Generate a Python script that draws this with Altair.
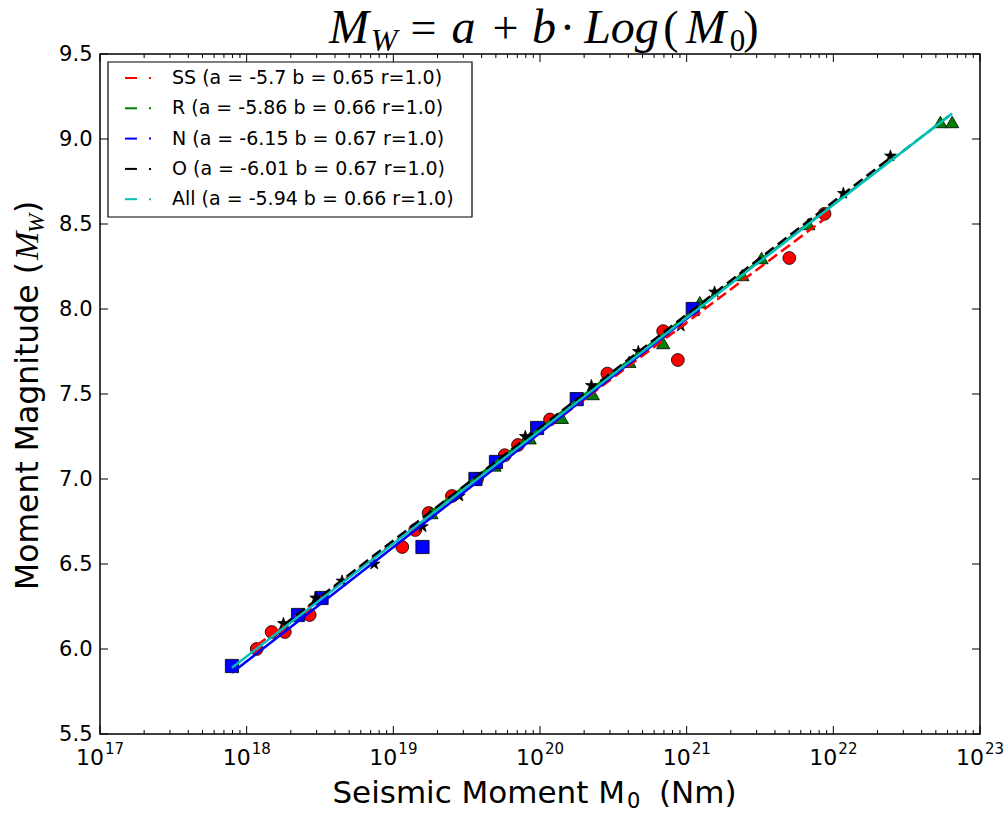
import altair as alt
import pandas as pd

# ---------------- data ----------------
ss_m0 = [1.17e18, 1.48e18, 1.82e18, 2.69e18, 1.15e19, 1.41e19, 1.74e19, 2.51e19, 3.72e19,
         5.75e19, 7.08e19, 1.17e20, 2.88e20, 6.92e20, 8.71e20, 5.01e21, 8.71e21]
ss_mw = [6.0, 6.1, 6.1, 6.2, 6.6, 6.7, 6.8, 6.9, 7.0, 7.14, 7.2, 7.35, 7.62, 7.87, 7.7, 8.3, 8.56]

r_m0 = [1.82e19, 4.90e19, 8.51e19, 1.41e20, 2.29e20, 4.07e20, 6.92e20, 1.23e21, 2.40e21,
        3.24e21, 6.76e21, 5.37e22, 6.46e22]
r_mw = [6.8, 7.08, 7.24, 7.36, 7.5, 7.69, 7.8, 8.04, 8.2, 8.3, 8.5, 9.1, 9.1]

n_m0 = [7.94e17, 2.24e18, 3.24e18, 1.58e19, 3.63e19, 5.01e19, 9.55e19, 1.78e20, 1.10e21]
n_mw = [5.9, 6.2, 6.3, 6.6, 7.0, 7.1, 7.3, 7.47, 8.0]

o_m0 = [1.78e18, 2.95e18, 4.47e18, 7.41e18, 1.58e19, 2.82e19, 7.94e19, 2.24e20, 4.68e20,
        9.12e20, 1.55e21, 1.17e22, 2.45e22]
o_mw = [6.15, 6.3, 6.4, 6.5, 6.72, 6.9, 7.25, 7.55, 7.75, 7.9, 8.1, 8.68, 8.9]

groups = ["SS", "R", "N", "O", "All"]
fit_a = ["-5.7", "-5.86", "-6.15", "-6.01", "-5.94"]
fit_b = ["0.65", "0.66", "0.67", "0.67", "0.66"]
colors = ["#ff0000", "#008000", "#0000ff", "#000000", "#00bfbf"]
labels = [f"{g} (a = {a} b = {b} r=1.0)" for g, a, b in zip(groups, fit_a, fit_b)]

# fitted-line end points
fit_m0_start = [1.17e18, 1.82e19, 7.94e17, 1.78e18, 7.94e17]
fit_mw_start = [6.02, 6.81, 5.86, 6.14, 5.89]
fit_m0_end = [8.71e21, 6.46e22, 1.10e21, 2.45e22, 6.46e22]
fit_mw_end = [8.53, 9.15, 7.97, 8.89, 9.15]
fit_dashed = [True, True, False, True, False]

x_major = [1e17, 1e18, 1e19, 1e20, 1e21, 1e22, 1e23]
x_exp = ["17", "18", "19", "20", "21", "22", "23"]
x_minor = [m * 10 ** e for e in range(17, 23) for m in range(2, 10)]
y_major = [5.5, 6.0, 6.5, 7.0, 7.5, 8.0, 8.5, 9.0, 9.5]

STAR = ("M0,-1L0.225,-0.309L0.951,-0.309L0.363,0.118L0.588,0.809L0,0.382"
        "L-0.588,0.809L-0.363,0.118L-0.951,-0.309L-0.225,-0.309Z")

# ---------------- tables ----------------
pts = pd.concat([
    pd.DataFrame({"m0": ss_m0, "mw": ss_mw, "g": "SS"}),
    pd.DataFrame({"m0": r_m0, "mw": r_mw, "g": "R"}),
    pd.DataFrame({"m0": n_m0, "mw": n_mw, "g": "N"}),
    pd.DataFrame({"m0": o_m0, "mw": o_mw, "g": "O"}),
], ignore_index=True)

rows = []
for i, g in enumerate(groups):
    rows.append({"m0": fit_m0_start[i], "mw": fit_mw_start[i], "lab": labels[i], "g": g, "d": fit_dashed[i]})
    rows.append({"m0": fit_m0_end[i], "mw": fit_mw_end[i], "lab": labels[i], "g": g, "d": fit_dashed[i]})
fit = pd.DataFrame(rows)

W, H = 880, 680
xs = alt.Scale(type="log", domain=[1e17, 1e23], nice=False)
ys = alt.Scale(domain=[5.5, 9.5], nice=False, zero=False)

X = alt.X("m0:Q", scale=xs,
          axis=alt.Axis(values=x_major, labels=False, ticks=False, domain=False, grid=False, title=None))
Y = alt.Y("mw:Q", scale=ys,
          axis=alt.Axis(values=y_major, format=".1f", ticks=False, domain=False, grid=False,
                        labelFontSize=21, labelFont="DejaVu Sans", labelColor="black",
                        labelPadding=8, title=None))

shape_of = {"SS": ("circle", 165), "R": ("triangle-up", 175), "N": ("square", 175), "O": (STAR, 150)}
point_layers = []
for g, col in zip(["SS", "R", "N", "O"], colors):
    shp, sz = shape_of[g]
    point_layers.append(
        alt.Chart(pts[pts.g == g]).mark_point(shape=shp, size=sz, filled=True, fill=col,
                                              stroke="black", strokeWidth=0.8, opacity=1)
        .encode(x=X, y=Y)
    )

color_scale = alt.Scale(domain=labels, range=colors)
dashed = alt.Chart(fit[fit.d]).mark_line(strokeWidth=2.5, strokeDash=[11, 5]).encode(
    x=X, y=Y, color=alt.Color("lab:N", scale=color_scale, legend=None), detail="g:N")
solid = alt.Chart(fit[~fit.d]).mark_line(strokeWidth=2.5).encode(
    x=X, y=Y, color=alt.Color("lab:N", scale=color_scale, legend=None), detail="g:N")

# inward ticks (matplotlib style), on all four sides
tx_major = pd.DataFrame({"m0": x_major})
tx_minor = pd.DataFrame({"m0": x_minor})
ty_major = pd.DataFrame({"mw": y_major})
ticks = [
    alt.Chart(tx_major).mark_rule(color="black", strokeWidth=1).encode(x=X, y=alt.value(H), y2=alt.value(H - 8)),
    alt.Chart(tx_major).mark_rule(color="black", strokeWidth=1).encode(x=X, y=alt.value(0), y2=alt.value(8)),
    alt.Chart(tx_minor).mark_rule(color="black", strokeWidth=1).encode(x=X, y=alt.value(H), y2=alt.value(H - 4)),
    alt.Chart(tx_minor).mark_rule(color="black", strokeWidth=1).encode(x=X, y=alt.value(0), y2=alt.value(4)),
    alt.Chart(ty_major).mark_rule(color="black", strokeWidth=1).encode(y=Y, x=alt.value(0), x2=alt.value(8)),
    alt.Chart(ty_major).mark_rule(color="black", strokeWidth=1).encode(y=Y, x=alt.value(W), x2=alt.value(W - 8)),
]

# x tick labels: 10 with superscript exponent
xlab = pd.DataFrame({"m0": x_major, "base": ["10"] * len(x_major), "exp": x_exp})
xlabels = [
    alt.Chart(xlab).mark_text(align="right", baseline="alphabetic", dx=4, fontSize=22,
                              font="DejaVu Sans", color="black").encode(x=X, y=alt.value(H + 31), text="base:N"),
    alt.Chart(xlab).mark_text(align="left", baseline="alphabetic", dx=5, fontSize=15,
                              font="DejaVu Sans", color="black").encode(x=X, y=alt.value(H + 20), text="exp:N"),
]

one = pd.DataFrame({"k": [0]})

def txt(t, x, y, size, font="DejaVu Sans", italic=False, align="left", angle=0, baseline="alphabetic", color="black"):
    kw = dict(text=t, align=align, baseline=baseline, fontSize=size, font=font,
              fontStyle="italic" if italic else "normal", color=color)
    if angle:
        kw["angle"] = angle
    return alt.Chart(one).mark_text(**kw).encode(x=alt.value(x), y=alt.value(y))

# title  M_W = a + b . Log(M_0)
SERIF = "Liberation Serif"
title_layers = [
    txt("M", 249, -11, 48, SERIF, True, "center"), txt("W", 284, -3, 32, SERIF, True, "center"),
    txt("=", 323.5, -11, 46, SERIF, False, "center"), txt("a", 363.5, -11, 48, SERIF, True, "center"),
    txt("+", 405.5, -11, 46, SERIF, False, "center"), txt("b", 444, -11, 48, SERIF, True, "center"),
    txt("·", 467.5, -11, 46, SERIF, False, "center"), txt("Log", 521.5, -11, 48, SERIF, True, "center"),
    txt("(", 571, -11, 46, SERIF, False, "center"), txt("M", 606, -11, 48, SERIF, True, "center"),
    txt("0", 637.5, -3, 31, SERIF, False, "center"), txt(")", 651, -11, 46, SERIF, False, "center"),
]

# x title  Seismic Moment M_0 (Nm)
xtitle = [
    txt("Seismic Moment M", 525, 749, 31, align="right"),
    txt("0", 527, 754, 21, align="left"),
    txt("(Nm)", 559, 749, 31, align="left"),
]

# y title  Moment Magnitude (M_W)   (rotated)
ytitle = [
    txt("Moment Magnitude (", -62, 208, 31.5, align="right", angle=270),
    txt("M", -62, 206, 34, SERIF, True, "left", 270),
    txt("W", -56, 179, 23, SERIF, True, "left", 270),
    txt(")", -62, 159, 31.5, align="left", angle=270),
]

# legend (matplotlib style box)
legend_layers = [
    alt.Chart(one).mark_rect(fill="white", stroke="black", strokeWidth=1.2).encode(
        x=alt.value(8), x2=alt.value(372), y=alt.value(8), y2=alt.value(163))
]
for i, (lab, col) in enumerate(zip(labels, colors)):
    cy = 24 + 30.3 * i
    legend_layers += [
        alt.Chart(one).mark_rule(color=col, strokeWidth=2).encode(
            x=alt.value(25), x2=alt.value(37), y=alt.value(cy)),
        alt.Chart(one).mark_rule(color=col, strokeWidth=2).encode(
            x=alt.value(49), x2=alt.value(51), y=alt.value(cy)),
        txt(lab, 72, cy, 19, align="left", baseline="middle"),
    ]

chart = alt.layer(*point_layers, dashed, solid, *ticks, *xlabels, *title_layers, *xtitle, *ytitle,
                  *legend_layers).properties(
    width=W, height=H, autosize=alt.AutoSizeParams(type="none"),
    padding={"left": 100, "top": 54, "right": 26, "bottom": 80},
    background="white",
).configure_view(stroke="black", strokeWidth=1.5)

chart.save("out.html", embed_options={"renderer": "svg", "actions": False})
